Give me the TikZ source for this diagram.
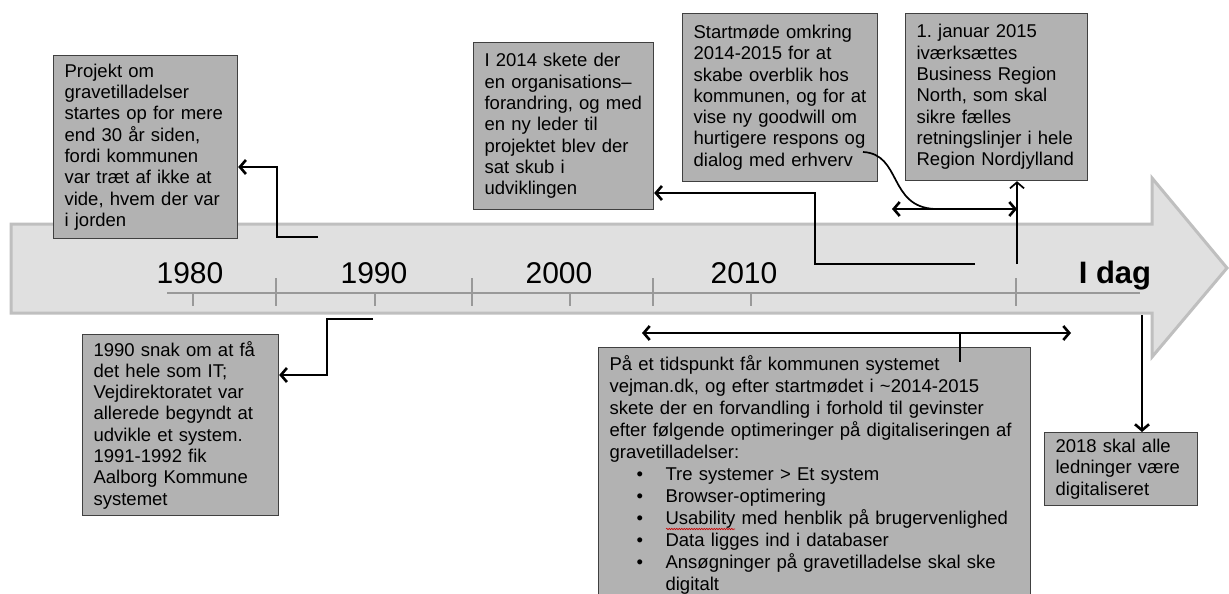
\documentclass[tikz,border=0pt]{standalone}
\usepackage{fontspec}
\setmainfont{Liberation Sans}
\usetikzlibrary{arrows.meta,decorations.pathmorphing}
\frenchspacing
\newcommand\bul{\makebox[56pt][l]{\hspace*{27pt}\textbullet}}
\begin{document}
\begin{tikzpicture}[x=1pt, y=-1pt, >={Straight Barb[length=6pt,width=14pt]}]
  \tikzstyle{event} = [rectangle, draw=black!75, fill=black!30, line width=1.2pt, anchor=north west, align=left, inner xsep=11pt, inner ysep=6pt, font=\fontsize{18.5}{21.3}\selectfont\frenchspacing]
  \tikzstyle{conn} = [line width=2.6pt, ->]
  \tikzstyle{thinconn} = [line width=1.7pt]
  \tikzstyle{axis} = [draw=black!40, line width=2.4pt]
  \tikzstyle{year} = [anchor=base, font=\fontsize{30}{32}\selectfont]

  \useasboundingbox (0,0) rectangle (1229,594);

  % time arrow
  \draw[draw=black!25, fill=black!12, line width=3pt] (11,224) -- (1152,224) -- (1152,178) -- (1227,268) -- (1152,357) -- (1152,313) -- (11,313) -- cycle;
  \draw[axis] (167,293) -- (1140,293);
  \foreach \x in {276,472,653,1016} \draw[axis] (\x,278) -- (\x,306);
  \foreach \x in {193,375,570,751} \draw[axis] (\x,293) -- (\x,306);
  \foreach \x/\yr in {190/1980,374/1990,559/2000,744/2010}
    \node[year] (y\yr) at (\x,283) {\yr};
  \node[year, font=\fontsize{31}{33}\selectfont\bfseries] (idag) at (1115,283) {I dag};

  % events
  \node[event, text width=162pt, minimum height=183pt] (proj) at (53,55) {Projekt om\\gravetilladelser\\startes op for mere\\end 30 år siden,\\fordi kommunen\\var træt af ikke at\\vide, hvem der var\\i jorden};
  \node[event, text width=174pt, minimum height=181pt] (snak) at (82,334) {1990 snak om at få\\det hele som IT;\\Vejdirektoratet var\\allerede begyndt at\\udvikle et system.\\1991-1992 fik\\Aalborg Kommune\\systemet};
  \node[event, text width=158pt, minimum height=167pt] (org) at (473,42) {I 2014 skete der\\en organisations–\\forandring, og med\\en ny leder til\\projektet blev der\\sat skub i\\udviklingen};
  \node[event, text width=173pt, minimum height=168pt] (start) at (682,13) {Startmøde omkring\\2014-2015 for at\\skabe overblik hos\\kommunen, og for at\\vise ny goodwill om\\hurtigere respons og\\dialog med erhverv};
  \node[event, text width=160pt, minimum height=167pt] (brn) at (905,13) {1. januar 2015\\iværksættes\\Business Region\\North, som skal\\sikre fælles\\retningslinjer i hele\\Region Nordjylland};
  \node[event, text width=410pt, inner ysep=8pt, font=\fontsize{18.5}{22}\selectfont\frenchspacing] (vejman) at (598,347) {På et tidspunkt får kommunen systemet\\vejman.dk, og efter startmødet i \textasciitilde2014-2015\\skete der en forvandling i forhold til gevinster\\efter følgende optimeringer på digitaliseringen af\\gravetilladelser:\\\bul Tre systemer > Et system\\\bul Browser-optimering\\\bul Usability med henblik på brugervenlighed\\\bul Data ligges ind i databaser\\\bul Ansøgninger på gravetilladelse skal ske\\\hspace*{56pt}digitalt};
  \node[event, text width=131pt, minimum height=73pt] (ledn) at (1044,432) {2018 skal alle\\ledninger være\\digitaliseret};

  % connectors
  \coordinate (p1) at (318,237);
  \coordinate (p2) at (277,167);
  \draw[conn] (p1) -| (p2) -- (p2 -| proj.east);

  \coordinate (s1) at (373,319);
  \coordinate (s2) at (327,375);
  \draw[conn] (s1) -| (s2) -- (s2 -| snak.east);

  \coordinate (o1) at (975,264);
  \coordinate (o2) at (815,193);
  \draw[conn] (o1) -| (o2) -- (o2 -| org.east);

  \coordinate (c1) at (863,152);
  \coordinate (d1) at (892,209);
  \coordinate (b1) at (1017,264);
  \draw[thinconn] (c1) .. controls (902,154) and (888,207) .. (935,209);
  \draw[conn, <->] (d1) -- (d1 -| b1);
  \draw[thinconn, ->] (b1) -- (b1 |- brn.south);

  \coordinate (v1) at (642,333);
  \coordinate (v2) at (1071,333);
  \coordinate (v3) at (960,362);
  \draw[conn, <->] (v1) -- (v2);
  \draw[line width=2.6pt] (v3 |- v1) -- (v3);

  \coordinate (l1) at (1142,315);
  \draw[conn] (l1) -- (l1 |- ledn.north);

  % spelling mark
  \coordinate (u1) at (666,529);
  \coordinate (u2) at (735,529);
  \draw[red!80!black, line width=0.6pt, decorate, decoration={snake, amplitude=0.7pt, segment length=2.5pt}] (u1) -- (u2);
\end{tikzpicture}
\end{document}
